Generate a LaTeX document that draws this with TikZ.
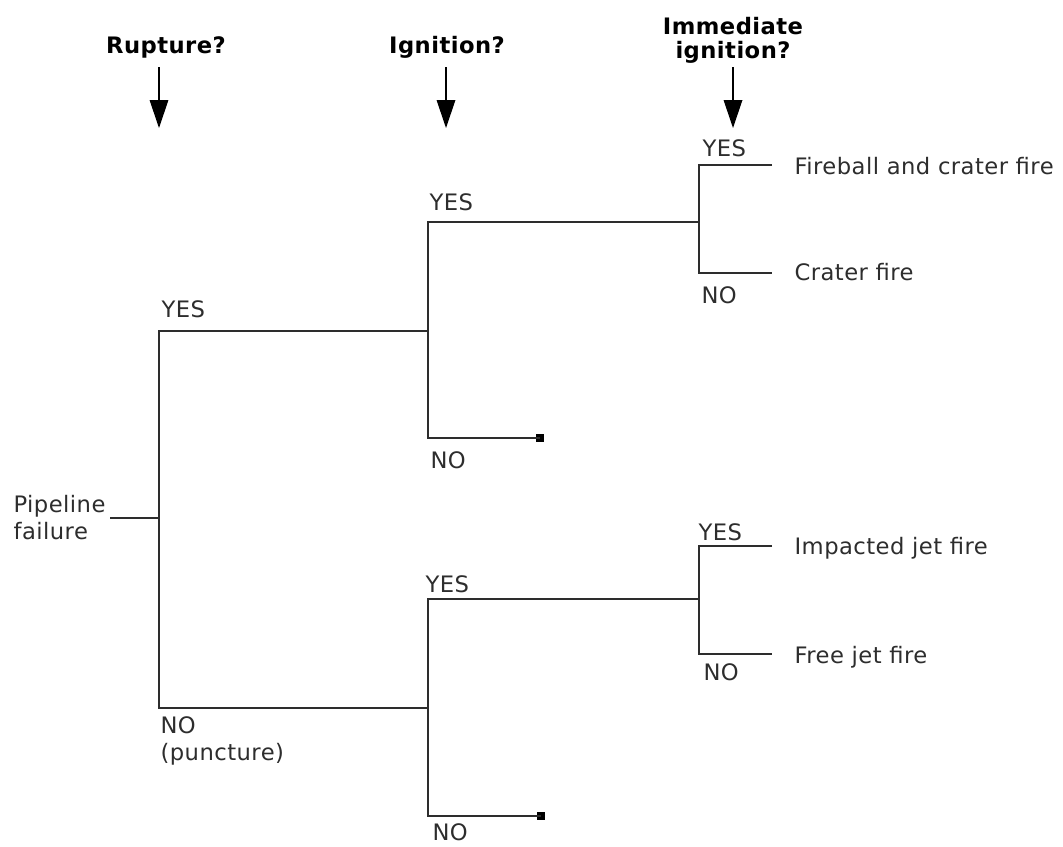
\documentclass[tikz,border=0pt]{standalone}
\usepackage{fontspec}
\setmainfont{DejaVu Sans}[LetterSpace=2.0]
\usetikzlibrary{arrows.meta,positioning}
\definecolor{treegray}{RGB}{45,45,45}

\begin{document}
\begin{tikzpicture}[x=0.75pt,y=-0.75pt,line width=0.9pt,draw=treegray,
  txt/.style={inner sep=0pt,text=treegray,font=\fontsize{17}{20}\selectfont},
  ttl/.style={inner sep=0pt,align=center,font=\fontsize{17}{18}\selectfont\bfseries},
  qarrow/.style={draw=black,-{Triangle[length=21pt,width=14pt]}},
  stopbox/.style={fill=black,inner sep=0pt,minimum size=6pt}]
  \useasboundingbox (0,0) rectangle (1063,846);
  \pgfmathsetmacro{\xa}{159}
  \pgfmathsetmacro{\xb}{428}
  \pgfmathsetmacro{\xc}{699}
  \pgfmathsetmacro{\xd}{772}

  % questions
  \node[ttl,anchor=base] (rupture) at (166,53) {Rupture?};
  \node[ttl,anchor=base] (ignition) at (447,53) {Ignition?};
  \node[ttl,anchor=north] (immediate) at (733,17) {Immediate\\ignition?};
  \coordinate (q1) at (\xa,67);  \coordinate (q1e) at (\xa,128);
  \coordinate (q2) at (446,67);  \coordinate (q2e) at (446,128);
  \coordinate (q3) at (733,67);  \coordinate (q3e) at (733,128);
  \draw[qarrow] (q1) -- (q1e);
  \draw[qarrow] (q2) -- (q2e);
  \draw[qarrow] (q3) -- (q3e);

  % rupture
  \node[txt,anchor=north west,align=left] (root) at (13,495) {Pipeline\\failure};
  \coordinate (r0) at (110,518);
  \coordinate (j1) at (\xa,518);
  \coordinate (j1y) at (\xa,331);
  \coordinate (j1n) at (\xa,708);
  \coordinate (j2a) at (\xb,331);
  \coordinate (j2b) at (\xb,708);
  \draw (r0) -- (j1);
  \draw (j2a) -- (j1y) -- (j1n) -- (j2b);
  \node[txt,anchor=base west] (yes1) at (161,317) {YES};
  \node[txt,anchor=north west,align=left] (no1) at (160,716) {NO\\(puncture)};

  % ignition, rupture branch
  \coordinate (j2ay) at (\xb,222);
  \coordinate (j2an) at (\xb,438);
  \coordinate (j3a) at (\xc,222);
  \node[stopbox] (stop1) at (540,438) {};
  \draw (j3a) -- (j2ay) -- (j2an) -- (stop1.center);
  \node[txt,anchor=base west] (yes2a) at (429,210) {YES};
  \node[txt,anchor=base west] (no2a) at (430,468) {NO};

  % ignition, puncture branch
  \coordinate (j2by) at (\xb,599);
  \coordinate (j2bn) at (\xb,816);
  \coordinate (j3b) at (\xc,599);
  \node[stopbox] (stop2) at (541,816) {};
  \draw (j3b) -- (j2by) -- (j2bn) -- (stop2.center);
  \node[txt,anchor=base west] (yes2b) at (425,592) {YES};
  \node[txt,anchor=base west] (no2b) at (432,840) {NO};

  % immediate ignition
  \coordinate (j3ay) at (\xc,165);
  \coordinate (j3an) at (\xc,273);
  \coordinate (e3ay) at (\xd,165);
  \coordinate (e3an) at (\xd,273);
  \draw (e3ay) -- (j3ay) -- (j3an) -- (e3an);
  \node[txt,anchor=base west] (yes3a) at (702,156) {YES};
  \node[txt,anchor=base west] (no3a) at (701,303) {NO};
  \node[txt,anchor=base west] (fireball) at (794,174) {Fireball and crater fire};
  \node[txt,anchor=base west] (crater) at (794,280) {Crater fire};

  \coordinate (j3by) at (\xc,546);
  \coordinate (j3bn) at (\xc,654);
  \coordinate (e3by) at (\xd,546);
  \coordinate (e3bn) at (\xd,654);
  \draw (e3by) -- (j3by) -- (j3bn) -- (e3bn);
  \node[txt,anchor=base west] (yes3b) at (698,540) {YES};
  \node[txt,anchor=base west] (no3b) at (703,680) {NO};
  \node[txt,anchor=base west] (impacted) at (794,554) {Impacted jet fire};
  \node[txt,anchor=base west] (freejet) at (794,663) {Free jet fire};
\end{tikzpicture}
\end{document}
